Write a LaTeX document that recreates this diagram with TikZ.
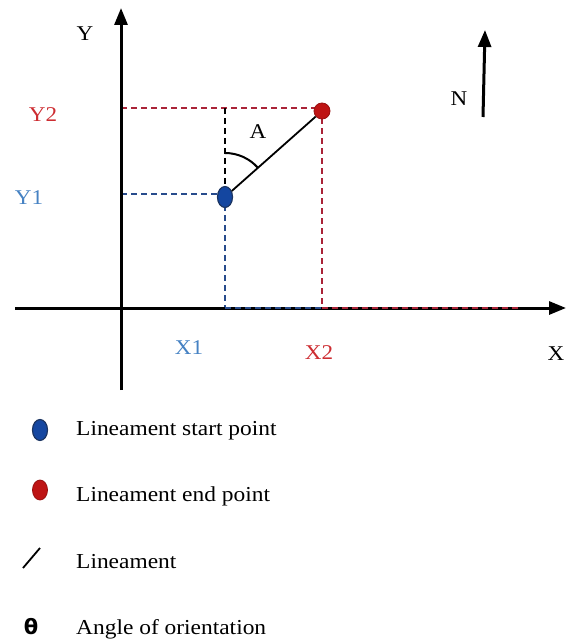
\documentclass[tikz,border=0pt]{standalone}
\usepackage{fontspec}
\setmainfont{Liberation Serif}[FakeStretch=1.1]
\newfontfamily\thetafont{DejaVu Sans}
\usetikzlibrary{arrows.meta}
\definecolor{lblue}{RGB}{70,130,195}
\definecolor{lred}{RGB}{205,45,50}
\definecolor{dred}{RGB}{170,35,55}
\definecolor{dblue}{RGB}{40,75,140}
\definecolor{pblue}{RGB}{20,70,160}
\definecolor{pred}{RGB}{190,20,20}
\tikzset{
  axis/.style={line width=3pt,-{Triangle[width=13pt,length=17pt]}},
  dred dash/.style={dred,line width=1.8pt,dash pattern=on 6pt off 4pt},
  dblue dash/.style={dblue,line width=1.8pt,dash pattern=on 6pt off 4pt},
  dblack dash/.style={black,line width=2.2pt,dash pattern=on 6pt off 4pt},
  lbl/.style={font=\fontsize{21}{24}\selectfont,inner sep=0pt},
  legtext/.style={font=\fontsize{21.3}{24}\selectfont,inner sep=0pt,anchor=west},
  startpt/.style={ellipse,minimum width=15pt,minimum height=21pt,fill=pblue,draw=dblue!70!black,line width=1.2pt,inner sep=0pt},
  endpt/.style={circle,minimum size=16pt,fill=pred,draw=pred!80!black,line width=0.8pt,inner sep=0pt},
}
\usetikzlibrary{shapes.geometric}
\begin{document}
\begin{tikzpicture}[x=1pt,y=-1pt]
\useasboundingbox (0,0) rectangle (566,639);
% coordinates
\coordinate (O) at (121,308);
\coordinate (ybot) at (121,390);
\coordinate (ytop) at (121,8);
\coordinate (xleft) at (15,308);
\coordinate (xright) at (566,308);
\coordinate (y2a) at (121,108);
\coordinate (y1a) at (121,194);
\coordinate (x1a) at (225,308);
\coordinate (x2a) at (322,308);
\coordinate (xend) at (520,308);
\coordinate (top1) at (225,108);
% dashed guides
\draw[dred dash] (y2a) -- (322,108);
\draw[dred dash] (322,118) -- (x2a);
\draw[dblue dash] (y1a) -- (225,194);
\draw[dblue dash] (225,205) -- (x1a);
\draw[dblack dash] (top1) -- (225,190);
% axes
\draw[axis] (ybot) -- (ytop);
\draw[axis] (xleft) -- (xright);
\draw[dblue dash,line width=1.2pt] (x1a) -- (x2a);
\draw[dred dash,line width=1.2pt] (x2a) -- (xend);
% points and lineament
\node[startpt] (S) at (225,197) {};
\node[endpt] (E) at (322,111) {};
\draw[line width=1.8pt] (S) -- (E);
\draw[line width=2pt] (225,153) arc[start angle=-90,end angle=-41.6,radius=44];
% labels
\node[lbl] (Y) at (85,34) {Y};
\node[lbl] (X) at (556,354) {X};
\node[lbl,text=lred] (Y2) at (43,115) {Y2};
\node[lbl,text=lblue] (Y1) at (29,198) {Y1};
\node[lbl,text=lblue] (X1) at (189,348) {X1};
\node[lbl,text=lred] (X2) at (319,353) {X2};
\node[lbl] (A) at (258,132) {A};
% north arrow
\coordinate (n1) at (483,117);
\coordinate (n2) at (485,30);
\draw[line width=3pt,-{Triangle[width=13pt,length=17pt]}] (n1) -- (n2);
\node[lbl] (N) at (459,99) {N};
% legend
\node[startpt] (L1) at (40,430) {};
\node[legtext] (T1) at (76,431) {Lineament start point};
\node[endpt,minimum width=15pt,minimum height=20pt,ellipse] (L2) at (40,490) {};
\node[legtext] (T2) at (76,496) {Lineament end point};
\coordinate (l3a) at (23,568);
\coordinate (l3b) at (40,548);
\draw[line width=1.8pt] (l3a) -- (l3b);
\node[legtext] (T3) at (76,562) {Lineament};
\node[inner sep=0pt,font=\thetafont\bfseries\fontsize{21}{24}\selectfont] (L4) at (31,627) {θ};
\node[legtext] (T4) at (76,629) {Angle of orientation};
\end{tikzpicture}
\end{document}
